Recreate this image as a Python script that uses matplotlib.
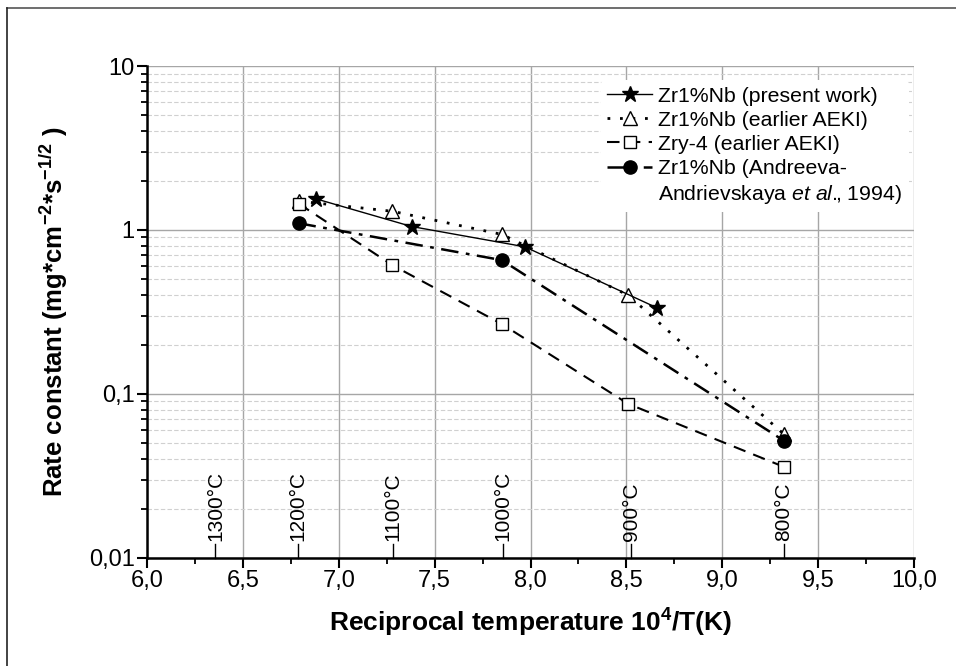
import matplotlib
matplotlib.use('Agg')
import matplotlib.pyplot as plt
from matplotlib.lines import Line2D
from matplotlib.ticker import FixedLocator, FuncFormatter, LogLocator, NullFormatter
import numpy as np

plt.rcParams['font.family'] = ['Liberation Sans', 'DejaVu Sans']
plt.rcParams['mathtext.fontset'] = 'custom'
plt.rcParams['mathtext.rm'] = 'Liberation Sans'
plt.rcParams['mathtext.it'] = 'Liberation Sans:italic'
plt.rcParams['mathtext.bf'] = 'Liberation Sans:bold'

# data
x_star = [6.88, 7.38, 7.97, 8.66]
y_star = [1.55, 1.05, 0.79, 0.335]

x_tri = [6.79, 7.28, 7.85, 8.51, 9.32]
y_tri = [1.50, 1.30, 0.94, 0.40, 0.057]

x_sq = [6.79, 7.28, 7.85, 8.51, 9.32]
y_sq = [1.45, 0.61, 0.267, 0.087, 0.036]

x_circ = [6.79, 7.85, 9.32]
y_circ = [1.10, 0.655, 0.052]

temps_C = [1300, 1200, 1100, 1000, 900, 800]
temp_x = [6.357, 6.789, 7.283, 7.855, 8.525, 9.320]

labels = ['Zr1%Nb (present work)',
          'Zr1%Nb (earlier AEKI)',
          'Zry-4 (earlier AEKI)',
          'Zr1%Nb (Andreeva-']
label_cont = 'Andrievskaya $\\mathit{et\\ al.}\\!\\!$, 1994)'

fig = plt.figure(figsize=(9.56, 6.66), dpi=100)
ax = fig.add_axes([0.1538, 0.1622, 0.8023, 0.7387])

# outer frame (top and left only)
fig.add_artist(Line2D([0.0073, 1.0], [0.988, 0.988], transform=fig.transFigure, color='#555555', lw=1.2))
fig.add_artist(Line2D([0.0073, 0.0073], [0.0, 0.988], transform=fig.transFigure, color='#222222', lw=1.2))

ax.plot(x_star, y_star, '-', color='black', lw=1.0, marker='*', ms=12,
        mfc='black', mec='black', label=labels[0], zorder=5)
ax.plot(x_tri, y_tri, linestyle=(0, (1, 3.5)), color='black', lw=2.0, marker='^', ms=10,
        mfc='white', mec='black', mew=1.0, label=labels[1], zorder=4)
ax.plot(x_sq, y_sq, linestyle=(0, (6, 4)), color='black', lw=1.5, marker='s', ms=8.5,
        mfc='white', mec='black', mew=1.0, label=labels[2], zorder=4)
ax.plot(x_circ, y_circ, linestyle=(0, (7, 3, 1.5, 3)), color='black', lw=1.8, marker='o', ms=9.5,
        mfc='black', mec='black', label=labels[3], zorder=4)
# empty handle carries the second line of the last legend entry
ax.plot([], [], ls='none', label=label_cont)

ax.set_yscale('log')
ax.set_xlim(6.0, 10.0)
ax.set_ylim(0.01, 10)

ax.set_xticks(np.arange(6.0, 10.01, 0.5))
ax.xaxis.set_minor_locator(FixedLocator(np.arange(6.25, 10.0, 0.5)))
ax.xaxis.set_major_formatter(FuncFormatter(lambda v, p: f'{v:.1f}'.replace('.', ',')))
ax.yaxis.set_major_locator(FixedLocator([0.01, 0.1, 1, 10]))
ax.yaxis.set_minor_locator(LogLocator(base=10, subs=np.arange(2, 10)))
ax.yaxis.set_minor_formatter(NullFormatter())
ax.yaxis.set_major_formatter(FuncFormatter(
    lambda v, p: {0.01: '0,01', 0.1: '0,1', 1: '1', 10: '10'}.get(round(v, 3), '')))

ax.tick_params(which='major', direction='out', length=7, width=1.5, labelsize=17, pad=2)
ax.tick_params(which='minor', direction='out', length=4, width=1.3)

ax.grid(which='major', axis='both', color='#a6a6a6', lw=1.0, ls='-')
ax.grid(which='minor', axis='y', color='#d0d0d0', lw=0.8, ls=(0, (4, 2)))
ax.set_axisbelow(True)

for side in ['top', 'right']:
    ax.spines[side].set_visible(False)
for side in ['left', 'bottom']:
    ax.spines[side].set_linewidth(1.8)

# temperature marks
for T, xt in zip(temps_C, temp_x):
    ax.plot([xt, xt], [0.01, 0.0121], color='black', lw=1.0, zorder=3, clip_on=False)
    ax.text(xt, 0.01265, f'{T}°C', rotation=90, ha='center', va='bottom', fontsize=15, zorder=3)

ax.set_xlabel('Reciprocal temperature 10$^{\\mathbf{4}}$/T(K)', fontsize=19, fontweight='bold')
ax.xaxis.set_label_coords(0.5, -0.100)
ax.set_ylabel('Rate constant (mg*cm$^{\\mathbf{-2}}$*s$^{\\mathbf{-1/2}}$ )', fontsize=18.5,
              fontweight='bold')
ax.yaxis.set_label_coords(-0.100, 0.5)

leg = ax.legend(loc='upper right', bbox_to_anchor=(0.993, 0.971), fontsize=15.3, frameon=True,
                handlelength=2.1, handletextpad=0.3, labelspacing=0.24, borderpad=0.3,
                borderaxespad=0.0)
leg.get_frame().set_facecolor('white')
leg.get_frame().set_edgecolor('none')
leg.get_frame().set_alpha(1.0)

fig.savefig('out.png', dpi=100)
